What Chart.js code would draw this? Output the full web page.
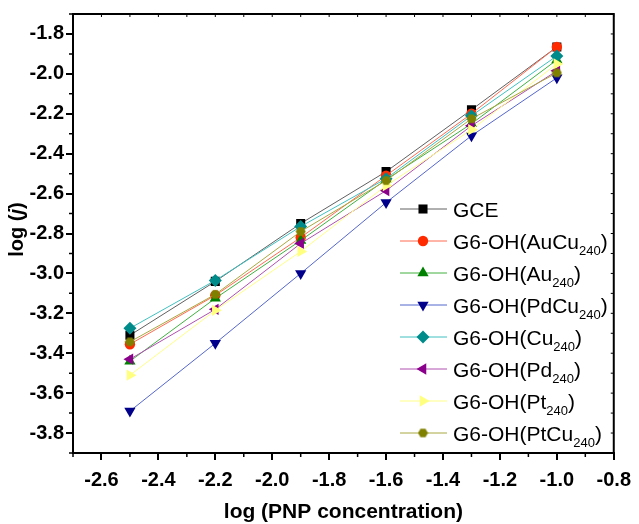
<!DOCTYPE html>
<html>
<head>
<meta charset="utf-8">
<script src="https://cdn.jsdelivr.net/npm/chart.js@4.4.1/dist/chart.umd.min.js"></script>
<style>
  html, body { margin: 0; padding: 0; background: #fff; }
  #wrap { width: 639px; height: 524px; position: relative; }
</style>
</head>
<body>
<div id="wrap"><canvas id="plot"></canvas></div>
<script>
// ================= DATA =================
const logConc = [-2.5, -2.2, -1.9, -1.6, -1.3, -1.0];

const gce   = [-3.31, -3.04, -2.75, -2.49, -2.18, -1.865];
const auCu  = [-3.355, -3.11, -2.82, -2.51, -2.20, -1.865];
const au    = [-3.44, -3.125, -2.835, -2.53, -2.25, -1.93];
const pdCu  = [-3.69, -3.35, -3.00, -2.645, -2.31, -2.02];
const cu    = [-3.275, -3.035, -2.765, -2.525, -2.21, -1.91];
const pd    = [-3.43, -3.18, -2.85, -2.585, -2.26, -1.985];
const pt    = [-3.51, -3.185, -2.89, -2.56, -2.28, -1.95];
const ptCu  = [-3.343, -3.105, -2.79, -2.535, -2.225, -1.995];

// "|" marks the subscript part of a legend name
const seriesNames = [
    'GCE',
    'G6-OH(AuCu|240|)',
    'G6-OH(Au|240|)',
    'G6-OH(PdCu|240|)',
    'G6-OH(Cu|240|)',
    'G6-OH(Pd|240|)',
    'G6-OH(Pt|240|)',
    'G6-OH(PtCu|240|)'
];

const xTicks = [-2.6, -2.4, -2.2, -2.0, -1.8, -1.6, -1.4, -1.2, -1.0, -0.8];
const yTicks = [-1.8, -2.0, -2.2, -2.4, -2.6, -2.8, -3.0, -3.2, -3.4, -3.6, -3.8];

// ================= STYLES =================
const FONT = "'Liberation Sans', Arial, sans-serif";

// hexagon marker for PtCu (no built-in hexagon in Chart.js)
function makeHexagon(color, size) {
    const c = document.createElement('canvas');
    c.width = size; c.height = size;
    const g = c.getContext('2d');
    const r = size / 2;
    g.beginPath();
    for (let k = 0; k < 6; k++) {
        const a = Math.PI / 3 * k;
        const px = r + (r - 0.5) * Math.cos(a);
        const py = r + (r - 0.5) * Math.sin(a);
        if (k === 0) g.moveTo(px, py); else g.lineTo(px, py);
    }
    g.closePath();
    g.fillStyle = color;
    g.fill();
    return c;
}

const styles = [
    { data: gce,  line: '#606060', mark: '#000000', shape: 'rect',     rot: 0,   r: 6.4 },
    { data: auCu, line: '#ff6a50', mark: '#ff2a00', shape: 'circle',   rot: 0,   r: 5.2 },
    { data: au,   line: '#40b040', mark: '#008000', shape: 'triangle', rot: 0,   r: 6.5 },
    { data: pdCu, line: '#5566cc', mark: '#00008a', shape: 'triangle', rot: 180, r: 6.5 },
    { data: cu,   line: '#40c0c0', mark: '#008b8b', shape: 'rectRot',  rot: 0,   r: 6.5 },
    { data: pd,   line: '#b050b0', mark: '#8b008b', shape: 'triangle', rot: 270, r: 6.5 },
    { data: pt,   line: '#ffff88', mark: '#ffff80', shape: 'triangle', rot: 90,  r: 6.5 },
    { data: ptCu, line: '#a8a840', mark: '#808000', shape: makeHexagon('#808000', 11), rot: 0, r: 5.5 }
];

const datasets = styles.map((s, i) => ({
    label: seriesNames[i].replace(/\|/g, ''),
    data: logConc.map((x, k) => ({ x: x, y: s.data[k] })),
    borderColor: s.line,
    borderWidth: 1,
    pointStyle: s.shape,
    rotation: s.rot,
    pointRadius: s.r,
    pointHoverRadius: s.r,
    pointBackgroundColor: s.mark,
    pointBorderColor: s.mark,
    pointBorderWidth: 0,
    showLine: true,
    tension: 0,
    order: -i   // later series drawn on top, like the original
}));

// ================= HELPERS =================
function minorValues(ticks, min, max) {
    const out = [];
    const sorted = ticks.slice().sort((a, b) => a - b);
    const step = sorted[1] - sorted[0];
    const first = sorted[0] - step / 2;
    if (first >= min - 1e-9) out.push(first);
    for (let i = 0; i < sorted.length - 1; i++) out.push((sorted[i] + sorted[i + 1]) / 2);
    const last = sorted[sorted.length - 1] + step / 2;
    if (last <= max + 1e-9) out.push(last);
    return out;
}

// ================= PLUGIN: frame, minor ticks, titles, legend =================
const decorPlugin = {
    id: 'decor',
    afterDraw(chart) {
        const ctx = chart.ctx;
        const a = chart.chartArea;
        const xs = chart.scales.x, ys = chart.scales.y;

        ctx.save();
        ctx.strokeStyle = '#000';

        // top + right frame
        ctx.lineWidth = 2;
        ctx.beginPath();
        ctx.moveTo(a.left, a.top); ctx.lineTo(a.right, a.top); ctx.lineTo(a.right, a.bottom);
        ctx.stroke();

        // minor ticks (outside) on left / bottom
        ctx.lineWidth = 1.5;
        ctx.beginPath();
        minorValues(xTicks, xs.min, xs.max).forEach(v => {
            const px = xs.getPixelForValue(v);
            ctx.moveTo(px, a.bottom); ctx.lineTo(px, a.bottom + 4);
        });
        minorValues(yTicks, ys.min, ys.max).forEach(v => {
            const py = ys.getPixelForValue(v);
            ctx.moveTo(a.left, py); ctx.lineTo(a.left - 4, py);
        });
        ctx.stroke();

        // small inner ticks on top / right
        ctx.lineWidth = 1;
        ctx.beginPath();
        xTicks.concat(minorValues(xTicks, xs.min, xs.max)).forEach(v => {
            const px = xs.getPixelForValue(v);
            ctx.moveTo(px, a.top); ctx.lineTo(px, a.top + 3);
        });
        yTicks.concat(minorValues(yTicks, ys.min, ys.max)).forEach(v => {
            const py = ys.getPixelForValue(v);
            ctx.moveTo(a.right, py); ctx.lineTo(a.right - 3, py);
        });
        ctx.stroke();

        // x axis title
        ctx.fillStyle = '#000';
        ctx.font = 'bold 21px ' + FONT;
        ctx.textAlign = 'center';
        ctx.textBaseline = 'alphabetic';
        ctx.fillText('log (PNP concentration)', (a.left + a.right) / 2, 518);

        // y axis title: log (j) with italic j
        ctx.save();
        ctx.translate(17, (a.top + a.bottom) / 2 - 4);
        ctx.rotate(-Math.PI / 2);
        ctx.textAlign = 'left';
        ctx.textBaseline = 'middle';
        const parts = [['log (', 'bold 20px '], ['j', 'italic bold 20px '], [')', 'bold 20px ']];
        let total = 0;
        parts.forEach(p => { ctx.font = p[1] + FONT; total += ctx.measureText(p[0]).width; });
        let cx = -total / 2;
        parts.forEach(p => {
            ctx.font = p[1] + FONT;
            ctx.fillText(p[0], cx, 0);
            cx += ctx.measureText(p[0]).width;
        });
        ctx.restore();

        // legend inside the plot
        const lx0 = 400, lx1 = 447, mx = 423, tx = 453;
        const rowTop = 209, rowGap = 32;
        chart.data.datasets.forEach((ds, i) => {
            const y = rowTop + rowGap * i;
            ctx.strokeStyle = ds.borderColor;
            ctx.lineWidth = 1;
            ctx.beginPath();
            ctx.moveTo(lx0, y); ctx.lineTo(lx1, y);
            ctx.stroke();

            ctx.fillStyle = ds.pointBackgroundColor;
            ctx.strokeStyle = ds.pointBorderColor;
            ctx.lineWidth = 0;
            Chart.helpers.drawPoint(ctx, {
                pointStyle: ds.pointStyle,
                rotation: ds.rotation,
                radius: ds.pointRadius,
                borderWidth: 0
            }, mx, y);

            const seg = seriesNames[i].split('|');
            const base = y + 7.5;
            let x = tx;
            ctx.fillStyle = '#000';
            ctx.textAlign = 'left';
            ctx.textBaseline = 'alphabetic';
            ctx.font = '21px ' + FONT;
            ctx.fillText(seg[0], x, base);
            x += ctx.measureText(seg[0]).width;
            if (seg.length > 1) {
                ctx.font = '13px ' + FONT;
                ctx.fillText(seg[1], x, base + 6);
                x += ctx.measureText(seg[1]).width;
                ctx.font = '21px ' + FONT;
                ctx.fillText(seg[2], x, base);
            }
        });

        ctx.restore();
    }
};

// ================= CHART =================
const ctx = document.getElementById('plot').getContext('2d');

const axisCommon = {
    type: 'linear',
    border: { display: true, color: '#000', width: 2 },
    grid: {
        display: true,
        drawOnChartArea: false,
        drawTicks: true,
        tickLength: 7,
        color: '#000',
        lineWidth: 2
    },
    ticks: {
        color: '#000',
        font: { family: FONT, size: 20, weight: 'bold' },
        callback: (v) => v.toFixed(1)
    }
};

const chart = new Chart(ctx, {
    type: 'scatter',
    data: { datasets: datasets },
    options: {
        responsive: true,
        maintainAspectRatio: false,
        animation: false,
        devicePixelRatio: 1,
        layout: { padding: { left: 0, right: 20, top: 14, bottom: 0 } },
        plugins: {
            legend: { display: false },
            tooltip: { enabled: false },
            title: { display: false }
        },
        scales: {
            x: Object.assign({}, axisCommon, {
                min: -2.7,
                max: -0.8,
                ticks: Object.assign({}, axisCommon.ticks, { padding: 8, maxRotation: 0, autoSkip: false }),
                afterBuildTicks: (s) => { s.ticks = xTicks.map(v => ({ value: v })); },
                afterFit: (s) => { s.height = 71; }
            }),
            y: Object.assign({}, axisCommon, {
                min: -3.9,
                max: -1.7,
                ticks: Object.assign({}, axisCommon.ticks, { padding: 2, autoSkip: false }),
                afterBuildTicks: (s) => { s.ticks = yTicks.map(v => ({ value: v })); },
                afterFit: (s) => { s.width = 73; }
            })
        }
    },
    plugins: [decorPlugin]
});
</script>
</body>
</html>
